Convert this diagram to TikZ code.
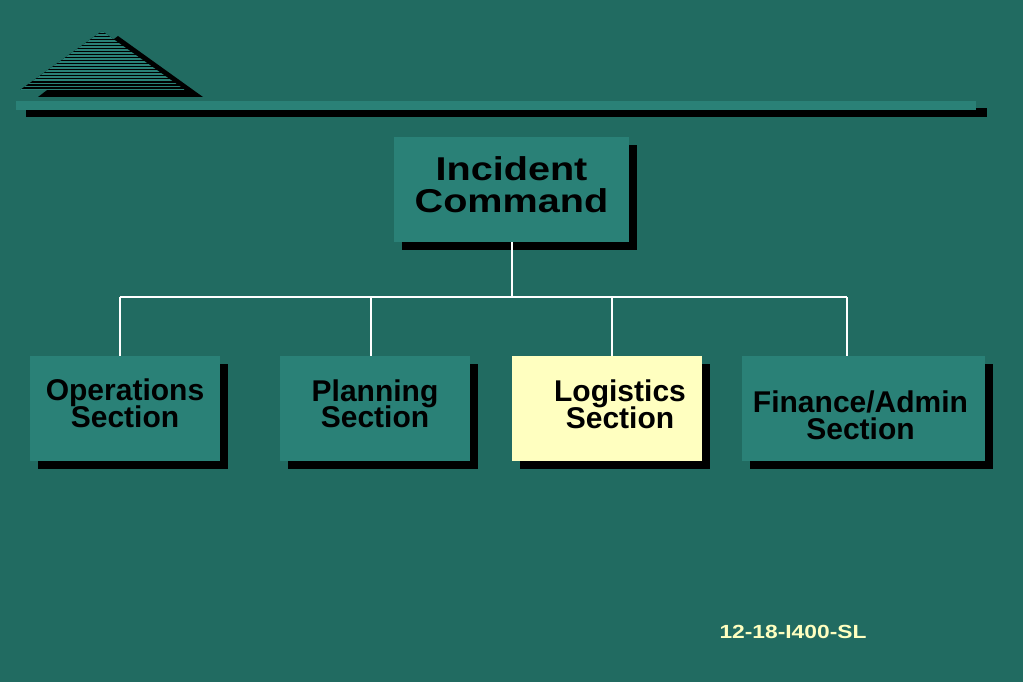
\documentclass[tikz,border=0pt]{standalone}
\usepackage{fontspec}
\setmainfont{Liberation Sans}
\definecolor{ICSbg}{HTML}{216B61}
\definecolor{ICSteal}{HTML}{2A8177}
\definecolor{ICSyellow}{HTML}{FFFFC0}
\newcommand{\tightlines}{\lineskiplimit=-60pt\lineskip=0pt}
\usetikzlibrary{shadows, positioning}

\begin{document}
\begin{tikzpicture}[x=1pt, y=-1pt,
   box/.style={fill=ICSteal, minimum height=105pt, minimum width=190pt, inner sep=0pt,
      drop shadow={shadow xshift=8pt, shadow yshift=-8pt, fill=black, opacity=1}},
   lbl/.style={font=\bfseries\fontsize{30}{26.5}\selectfont\tightlines, align=center, text=black},
   link/.style={white, line width=2pt}]
      % Background
      \fill[ICSbg] (0,0) rectangle (1023,682);
      \useasboundingbox (0,0) rectangle (1023,682);
      % Logo (striped pyramid and its shadow)
      \fill[black] (38,97) -- (118,36) -- (203,97) -- cycle;
      \begin{scope}
         \clip (20,90) -- (102,31) -- (185,90) -- cycle;
         \fill[black] (20,30) rectangle (185,91);
         \foreach \y [evaluate=\y as \w using {2.4-1.6*(\y-32)/58}] in {32,35,...,90}
            \draw[ICSteal, line width=\w pt] (20,\y) -- (185,\y);
      \end{scope}
      % Title bar
      \fill[black] (26,108) rectangle (987,117);
      \fill[ICSteal] (16,101) rectangle (976,110);
      % Incident Command
      \node[box, minimum width=235pt] (ic) at (511.5,189.5) {};
      \node[lbl, font=\bfseries\fontsize{33}{32.5}\selectfont\tightlines,
         xscale=1.2, transform shape, yshift=5pt] (icText) at (ic) {Incident\\Command};
      % Sections
      \node[box] (ops) at (125,408.5) {};
      \node[lbl, yshift=5pt] (opsText) at (ops) {Operations\\Section};
      \node[box] (plan) at (375,408.5) {};
      \node[lbl, yshift=4.5pt] (planText) at (plan) {Planning\\Section};
      \node[box, fill=ICSyellow] (log) at (607,408.5) {};
      \node[lbl, xshift=13pt, yshift=4pt] (logText) at (log) {Logistics\\Section};
      \node[box, minimum width=243pt] (fin) at (863.5,408.5) {};
      \node[lbl, xshift=-3pt, yshift=-7pt] (finText) at (fin) {Finance/Admin\\Section};
      % Connectors
      \coordinate (bOps) at (120,297);
      \coordinate (bPlan) at (371,297);
      \coordinate (bLog) at (612,297);
      \coordinate (bFin) at (847,297);
      \draw[link] (ic.south) -- (ic.south |- bOps);
      \draw[link] (bOps) -- (bFin);
      \foreach \b/\n in {bOps/ops, bPlan/plan, bLog/log, bFin/fin}
         \draw[link] (\b) -- (\b |- \n.north);
      % Slide number
      \node[font=\bfseries\fontsize{19}{19}\selectfont, text=ICSyellow,
         xscale=1.2, transform shape] (slideNo) at (793,632) {12-18-I400-SL};
   \end{tikzpicture}
\end{document}
